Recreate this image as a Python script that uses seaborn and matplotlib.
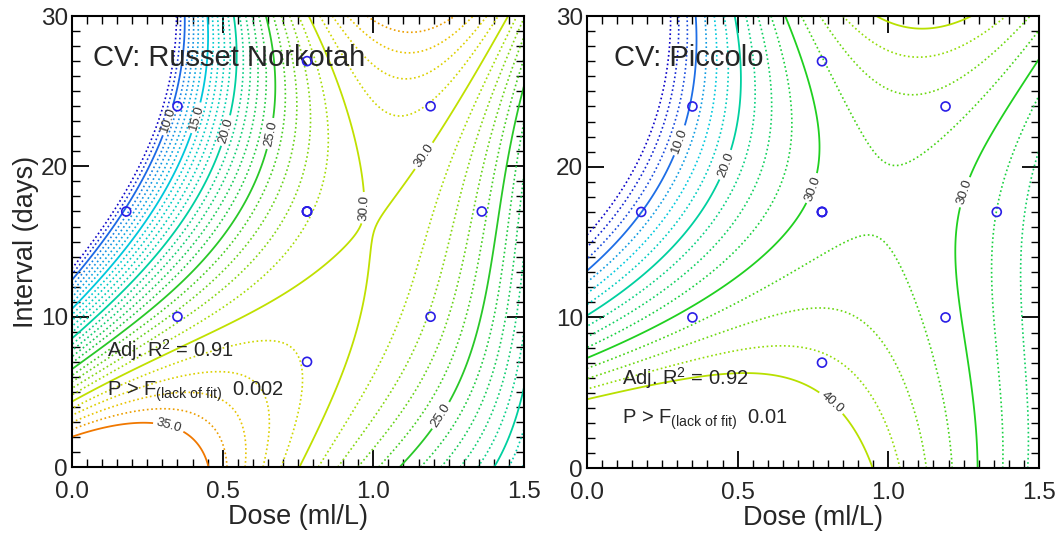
import numpy as np
import matplotlib
matplotlib.use("Agg")
import matplotlib.pyplot as plt
import seaborn as sns
from matplotlib.colors import LinearSegmentedColormap

# central composite design (dose ml/L, interval days), centre point replicated
design_dose = [0.18, 0.35, 0.35, 0.78, 0.78, 0.78, 0.78, 0.78, 1.19, 1.19, 1.36]
design_interval = [17, 24, 10, 27, 17, 17, 17, 7, 24, 10, 17]

# CV -- Russet Norkotah
rn_dose = [0.0, 0.335,                                   # 8
           0.0, 0.18, 0.355, 0.39,                       # 10
           0.0, 0.24, 0.41, 0.45,                        # 15
           0.0, 0.30, 0.49, 0.54,                        # 20
           0.0, 0.46, 0.62, 0.67, 0.65,                  # 25
           0.0, 0.29, 0.535, 0.62, 0.79, 0.88, 0.95, 0.92, 0.85, 0.78,   # 30 (left)
           0.72, 0.73, 0.79, 0.85, 1.01, 1.07, 1.08, 1.07, 1.11, 1.19, 1.455,  # 30 (right)
           0.0, 0.13, 0.29, 0.38, 0.45, 0.48,            # 35
           1.06, 0.96, 1.23, 1.05, 0.83, 1.30, 1.05, 1.40, 1.05,   # 31-34 top
           1.0, 1.08, 1.15,                              # top edge maximum
           0.0, 0.535, 0.65, 0.0, 0.36, 0.535,           # 31, 34 lower arcs
           0.85, 0.97, 1.01,                             # channel
           0.80, 0.88, 0.95, 1.02,                       # 26-29 at bottom
           1.13, 1.25, 1.33, 1.38, 1.40, 1.465, 1.5,     # 25 (right)
           1.42, 1.5]                                    # 20
rn_interval = [14.0, 30,
               12.4, 17.0, 24.0, 30,
               10.4, 15.8, 23.5, 30,
               8.4, 14.5, 22.5, 30,
               6.3, 13.8, 19.6, 24.5, 30,
               4.3, 6.5, 8.3, 10.4, 13.3, 16.9, 20.4, 23.3, 26.7, 30,
               0, 2.7, 5.3, 6.7, 8.0, 10.5, 13.8, 18.7, 21.6, 24, 30,
               1.9, 3.1, 3.7, 3.3, 1.8, 0,
               29.5, 30, 30, 27.7, 30, 30, 25.3, 30, 23,
               30, 30, 30,
               3.8, 7.6, 0, 2.4, 6.1, 0,
               9, 15, 20,
               0, 0, 0, 0,
               0, 3.1, 7.1, 13.5, 17.8, 21.8, 24,
               1, 7.1]
rn_cv = [8, 8,
         10, 10, 10, 10,
         15, 15, 15, 15,
         20, 20, 20, 20,
         25, 25, 25, 25, 25,
         30, 30, 30, 30, 30, 30, 30, 30, 30, 30,
         30, 30, 30, 30, 30, 30, 30, 30, 30, 30, 30,
         35, 35, 35, 35, 35, 35,
         34, 34, 34, 33, 33, 33, 32, 32, 31,
         34.2, 34.4, 34.2,
         31, 31, 31, 34, 34, 34,
         30.5, 30.3, 30.3,
         29, 28, 27, 26,
         25, 25, 25, 25, 25, 25, 25,
         20, 20]

# CV -- Piccolo
pc_dose = [0.0, 0.18, 0.35, 0.374,                       # 10
           0.0, 0.24, 0.45, 0.5,                         # 20
           0.0, 0.35, 0.57, 0.67, 0.78, 0.74, 0.67, 0.66,   # 30 (left)
           1.5, 1.38, 1.245, 1.24, 1.27, 1.32,           # 30 (right)
           0.0, 0.43, 0.67, 0.78, 0.93,                  # 40 (bottom)
           0.915, 1.0, 1.245,                            # 40 (top)
           0.70, 0.77, 1.05, 1.5, 0.755, 1.05, 1.40, 0.815, 1.0, 1.345,  # 32.5-37.5 top
           0.67, 0.96, 1.10, 1.245, 0.67, 0.93, 1.13, 1.16, 0.67, 0.78, 1.046,  # bottom
           1.0, 0.9, 1.12, 1.0, 1.02,                    # around the saddle
           1.38, 1.44, 1.5]                              # bottom right
pc_interval = [13.3, 17, 24, 30,
               10, 13.8, 20.2, 30,
               7.3, 11.3, 13.8, 15.8, 20.9, 25.5, 28.8, 30,
               26, 22.9, 17.8, 13.3, 7.2, 0,
               4.5, 6.7, 5.2, 3.6, 0,
               30, 29.2, 30,
               30, 27, 20.9, 27.9, 30, 25.3, 30, 30, 27.6, 30,
               13.3, 15.8, 13.3, 0, 10.4, 10.0, 5.0, 0, 7.6, 7.0, 0,
               18.3, 18.3, 17.5, 16.5, 19.8,
               0, 0, 0]
pc_cv = [10, 10, 10, 10,
         20, 20, 20, 20,
         30, 30, 30, 30, 30, 30, 30, 30,
         30, 30, 30, 30, 30, 30,
         40, 40, 40, 40, 40,
         40, 40, 40,
         32.5, 32.5, 32.5, 32.5, 35, 35, 35, 37.5, 37.5, 37.5,
         32.5, 32.5, 32.5, 32.5, 35, 35, 35, 35, 37.5, 37.5, 37.5,
         31.3, 30.8, 30.9, 31.8, 31.8,
         27.5, 25, 22.5]

rn_levels = list(np.arange(8, 36, 1.0))
pc_levels = list(np.arange(2.5, 40.1, 2.5))
rn_anchors = [(8, "#0a00c8"), (10, "#1e6ee6"), (15, "#00c8dc"), (20, "#00d0a0"),
              (25, "#28c828"), (30, "#c0e000"), (33, "#e8c800"), (35, "#f07800")]
pc_anchors = [(2.5, "#0a00c8"), (10, "#1e6ee6"), (15, "#00c8dc"), (20, "#00d0a0"),
              (30, "#20d020"), (40, "#b8e000")]


def terms(x, y, degree):
    cols = [x ** (n - k) * y ** k for n in range(degree + 1) for k in range(n + 1)]
    return np.stack(cols, axis=-1)


def surface(dose, interval, cv, D, T, degree):
    A = terms(np.asarray(dose, float), np.asarray(interval, float) / 30, degree)
    coef = np.linalg.lstsq(A, np.asarray(cv, float), rcond=None)[0]
    return terms(D, T / 30, degree) @ coef


def level_colors(levels, anchors):
    lo, hi = anchors[0][0], anchors[-1][0]
    cmap = LinearSegmentedColormap.from_list(
        "cv", [((v - lo) / (hi - lo), c) for v, c in anchors])
    return [cmap((lv - lo) / (hi - lo)) for lv in levels]


sns.set_theme(style="ticks")
plt.rcParams["font.family"] = ["Liberation Sans", "DejaVu Sans"]
plt.rcParams["mathtext.fontset"] = "custom"
plt.rcParams["mathtext.rm"] = "Liberation Sans"
plt.rcParams["mathtext.it"] = "Liberation Sans"
plt.rcParams["lines.dotted_pattern"] = [1.0, 1.6]

fig = plt.figure(figsize=(10.62, 5.35), dpi=100)
ax1 = fig.add_axes([0.0678, 0.127, 0.4256, 0.843])
ax2 = fig.add_axes([0.5527, 0.125, 0.4256, 0.845])

D, T = np.meshgrid(np.linspace(0, 1.5, 301), np.linspace(0, 30, 301))

panels = [
    (ax1, rn_dose, rn_interval, rn_cv, rn_levels, rn_anchors, 5, 4, "CV: Russet Norkotah",
     0.07, "0.91", "0.002", [(0.30, 23.2), (0.40, 23.3), (0.49, 22.5), (0.63, 22.3),
                              (0.89, 17.3), (1.10, 21.6), (0.33, 3.4), (1.25, 3.1)], (7.8, 5.0)),
    (ax2, pc_dose, pc_interval, pc_cv, pc_levels, pc_anchors, 10, 3, "CV: Piccolo",
     0.09, "0.92", "0.01", [(0.30, 21.8), (0.45, 20.2), (0.73, 18.7), (1.24, 18.4),
                             (0.75, 3.0)], (6.0, 3.2)),
]

for (ax, dose, interval, cv, levels, anchors, major, degree, title, tx,
     r2, pval, lab_pos, ty) in panels:
    Z = surface(dose, interval, cv, D, T, degree)
    colors = level_colors(levels, anchors)
    minor_lv = [lv for lv in levels if lv % major != 0]
    minor_c = [c for lv, c in zip(levels, colors) if lv % major != 0]
    major_lv = [lv for lv in levels if lv % major == 0]
    major_c = [c for lv, c in zip(levels, colors) if lv % major == 0]
    ax.contour(D, T, Z, levels=minor_lv, colors=minor_c, linestyles="dotted",
               linewidths=1.2)
    cs = ax.contour(D, T, Z, levels=major_lv, colors=major_c, linestyles="solid",
                    linewidths=1.3)
    ax.clabel(cs, manual=lab_pos, fmt="%.1f", fontsize=9.5,
              colors="#333333", inline=True, inline_spacing=3)

    sns.scatterplot(x=design_dose, y=design_interval, ax=ax, marker="o", s=42,
                    facecolor="none", edgecolor="#2a1ee6", linewidth=1.2,
                    legend=False, zorder=5)

    ax.set_xlim(0, 1.5)
    ax.set_ylim(0, 30)
    ax.set_xticks([0, 0.5, 1.0, 1.5])
    ax.set_xticklabels(["0.0", "0.5", "1.0", "1.5"])
    ax.set_yticks([0, 10, 20, 30])
    ax.set_xticks(np.arange(0, 1.51, 0.05), minor=True)
    ax.set_yticks(np.arange(0, 31, 1), minor=True)
    ax.tick_params(which="both", direction="in", top=True, right=True,
                   labelsize=17.5, color="black")
    ax.tick_params(axis="x", which="major", pad=10)
    ax.tick_params(axis="y", which="major", pad=3)
    ax.tick_params(which="major", length=12, width=1.3)
    ax.tick_params(which="minor", length=6, width=1.0)
    for sp in ax.spines.values():
        sp.set_linewidth(1.5)
        sp.set_color("black")
    ax.set_xlabel("Dose (ml/L)", fontsize=19.5, labelpad=1)

    ax.text(tx, 27.2, title, fontsize=21, va="center", ha="left")
    ax.text(0.115, ty[0], "Adj. R$^2$ = " + r2, fontsize=14.5, va="center")
    ax.text(0.115, ty[1], r"P > F$_{\mathrm{(lack\ of\ fit)}}$  " + pval,
            fontsize=14.5, va="center")

ax1.set_ylabel("Interval (days)", fontsize=19.5, labelpad=1)
ax2.set_ylabel("")

fig.savefig("out.png", dpi=100)
